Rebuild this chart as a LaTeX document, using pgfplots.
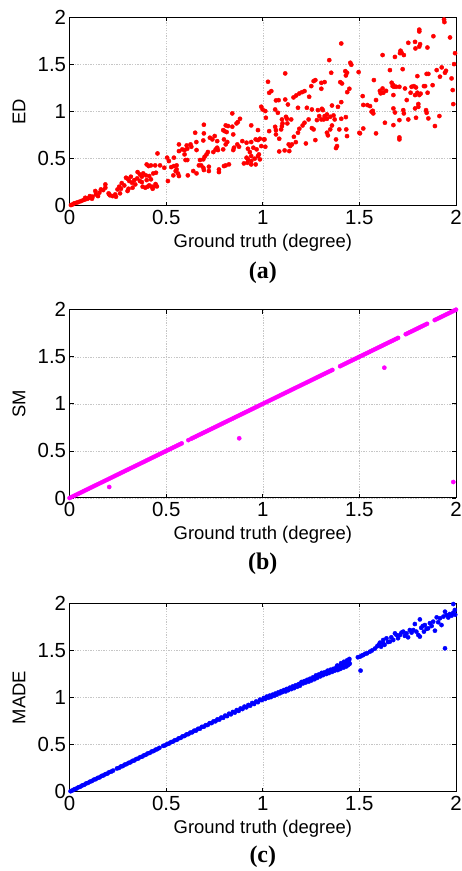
\documentclass[border=0pt]{standalone}
\usepackage{pgfplots}
\pgfplotsset{compat=1.18}
\usepackage{fontspec}
\setmainfont{Liberation Sans}
\newfontfamily\capfont{Liberation Serif}
\definecolor{mred}{rgb}{1,0,0}
\definecolor{mmag}{rgb}{1,0,1}
\definecolor{mblue}{rgb}{0,0,1}
\pgfplotsset{
  panel/.style={
    width=386.4bp, height=188.3bp, scale only axis,
    xmin=0, xmax=2, ymin=0, ymax=2,
    xtick={0,0.5,1,1.5,2}, ytick={0,0.5,1,1.5,2},
    xtick pos=both, ytick pos=both,
    tick align=inside, major tick length=4bp,
    every tick/.style={black, line width=0.7bp},
    axis line style={line width=1bp},
    grid=major,
    major grid style={gray!45, dash pattern=on 1.3bp off 1.3bp, line width=0.5bp},
    /pgf/number format/assume math mode=true,
    tick label style={font=\fontsize{20.5}{21}\selectfont},
    xticklabel style={yshift=-1bp},
    label style={font=\fontsize{18.5}{19}\selectfont},
    xlabel={Ground truth (degree)},
    xlabel style={at={(axis description cs:0.5,0)}, anchor=center, yshift=-37bp},
    ylabel style={at={(axis description cs:0,0.5)}, anchor=center, rotate=0, yshift=50.6bp},
  },
  dots/.style={only marks, mark=*, mark size=2.1bp, color=#1, mark options={draw=none, fill=#1}},
}
\begin{document}
\begin{tikzpicture}
\path[use as bounding box] (0,0) rectangle (462bp,871bp);
% ---------------- (a) ED
\begin{axis}[panel, name=pa, at={(69.6bp,665.3bp)}, anchor=south west, ylabel={ED}]
\addplot[dots=mred] table {
x y
0.007 0.007
0.016 0.014
0.024 0.025
0.036 0.032
0.047 0.039
0.059 0.049
0.071 0.060
0.081 0.067
0.081 0.084
0.093 0.074
0.102 0.085
0.105 0.102
0.116 0.074
0.119 0.095
0.133 0.156
0.136 0.120
0.147 0.102
0.154 0.138
0.162 0.173
0.174 0.166
0.185 0.226
0.185 0.191
0.202 0.131
0.205 0.120
0.209 0.110
0.223 0.102
0.236 0.120
0.240 0.095
0.248 0.173
0.257 0.202
0.261 0.131
0.266 0.180
0.270 0.240
0.283 0.215
0.292 0.297
0.300 0.286
0.300 0.156
0.305 0.180
0.309 0.262
0.317 0.308
0.323 0.244
0.326 0.191
0.335 0.272
0.340 0.226
0.350 0.290
0.352 0.357
0.364 0.332
0.364 0.262
0.374 0.308
0.374 0.251
0.378 0.202
0.381 0.343
0.392 0.191
0.395 0.322
0.399 0.438
0.399 0.272
0.404 0.202
0.409 0.421
0.412 0.315
0.412 0.216
0.421 0.428
0.421 0.280
0.426 0.202
0.430 0.180
0.433 0.343
0.443 0.428
0.443 0.209
0.445 0.230
0.447 0.350
0.452 0.205
0.455 0.555
0.468 0.428
0.490 0.403
0.505 0.510
0.509 0.262
0.514 0.474
0.526 0.410
0.537 0.322
0.540 0.510
0.540 0.421
0.549 0.368
0.554 0.428
0.554 0.385
0.561 0.343
0.566 0.651
0.566 0.580
0.566 0.315
0.583 0.598
0.595 0.591
0.595 0.545
0.600 0.485
0.606 0.640
0.609 0.605
0.609 0.485
0.612 0.322
0.626 0.651
0.630 0.626
0.640 0.368
0.650 0.775
0.656 0.676
0.657 0.591
0.657 0.343
0.669 0.428
0.675 0.485
0.681 0.428
0.692 0.693
0.692 0.492
0.692 0.403
0.695 0.860
0.695 0.768
0.695 0.379
0.699 0.520
0.709 0.545
0.716 0.570
0.721 0.414
0.721 0.368
0.726 0.722
0.739 0.704
0.744 0.570
0.751 0.740
0.756 0.598
0.764 0.686
0.764 0.616
0.768 0.591
0.773 0.385
0.773 0.357
0.795 0.803
0.795 0.598
0.799 0.704
0.799 0.421
0.802 0.792
0.808 0.853
0.808 0.651
0.808 0.428
0.813 0.782
0.816 0.676
0.820 0.846
0.825 0.439
0.842 0.980
0.842 0.839
0.847 0.757
0.847 0.591
0.851 0.616
0.864 0.874
0.868 0.651
0.871 0.888
0.877 0.626
0.882 0.923
0.894 0.686
0.902 0.449
0.916 0.669
0.916 0.510
0.920 0.456
0.923 0.605
0.923 0.492
0.933 0.570
0.940 0.853
0.940 0.676
0.940 0.527
0.940 0.474
0.940 0.438
0.951 0.616
0.958 0.499
0.963 0.704
0.963 0.438
0.968 0.598
0.975 0.803
0.975 0.697
0.975 0.527
0.980 0.545
0.985 0.711
0.985 0.492
0.992 1.051
0.992 0.633
0.999 1.022
1.006 0.704
1.009 0.704
1.013 1.005
1.013 0.626
1.016 0.934
1.027 1.316
1.033 1.199
1.033 0.792
1.044 1.217
1.064 1.022
1.064 0.838
1.068 1.118
1.068 0.803
1.068 0.757
1.078 0.987
1.082 1.121
1.085 0.711
1.085 0.576
1.095 0.810
1.099 0.916
1.099 0.845
1.102 0.874
1.113 0.587
1.116 1.405
1.116 1.128
1.120 0.944
1.125 0.923
1.127 0.874
1.130 1.075
1.134 0.651
1.137 0.580
1.142 0.633
1.147 0.916
1.151 0.651
1.159 1.150
1.161 0.732
1.171 0.675
1.173 1.171
1.182 1.040
1.182 0.775
1.189 1.192
1.189 0.817
1.203 1.206
1.206 0.852
1.216 1.217
1.216 0.881
1.223 0.661
1.228 1.040
1.237 0.916
1.240 1.157
1.251 1.270
1.254 1.022
1.254 0.824
1.263 1.323
1.263 0.810
1.272 1.334
1.272 0.697
1.280 0.909
1.285 1.015
1.292 0.952
1.303 1.242
1.303 1.305
1.303 0.916
1.306 1.029
1.311 1.015
1.315 0.916
1.320 1.313
1.320 0.952
1.332 0.969
1.332 0.923
1.332 0.775
1.337 0.747
1.344 1.546
1.349 0.944
1.349 0.810
1.354 1.412
1.358 1.064
1.358 0.852
1.366 0.959
1.372 0.916
1.379 0.704
1.379 0.612
1.384 0.633
1.389 1.050
1.396 0.810
1.401 1.312
1.406 1.723
1.406 1.100
1.406 0.923
1.410 1.298
1.427 1.429
1.430 1.383
1.430 0.941
1.432 0.810
1.436 1.412
1.436 0.739
1.437 1.206
1.448 1.242
1.453 1.518
1.458 1.497
1.496 1.419
1.500 0.774
1.503 0.768
1.517 1.164
1.520 1.070
1.520 0.820
1.541 1.069
1.555 1.058
1.563 0.998
1.569 1.008
1.572 0.980
1.575 1.334
1.586 1.122
1.586 0.768
1.606 1.220
1.610 1.193
1.620 1.600
1.620 1.245
1.624 1.200
1.632 0.881
1.638 1.220
1.658 1.440
1.667 1.306
1.672 1.270
1.676 1.280
1.676 1.175
1.676 1.033
1.676 0.856
1.679 1.263
1.684 1.580
1.684 0.990
1.690 1.263
1.707 1.263
1.707 0.909
1.707 0.725
1.707 0.704
1.710 1.620
1.713 1.646
1.718 1.625
1.724 1.450
1.727 1.015
1.730 1.600
1.730 0.980
1.736 1.245
1.745 1.122
1.753 1.730
1.753 0.916
1.765 1.200
1.770 1.263
1.782 1.270
1.788 1.740
1.788 1.175
1.788 1.033
1.790 1.670
1.793 1.256
1.793 0.934
1.800 1.376
1.800 1.200
1.805 1.080
1.805 1.050
1.810 1.870
1.810 1.850
1.810 1.690
1.810 1.175
1.814 1.716
1.817 1.190
1.834 1.270
1.840 1.270
1.845 1.015
1.848 1.400
1.848 0.987
1.852 1.680
1.853 1.200
1.857 1.400
1.857 0.927
1.879 1.280
1.883 1.800
1.891 0.846
1.900 1.440
1.914 0.952
1.917 1.370
1.926 1.469
1.938 1.978
1.940 1.950
1.943 1.412
1.948 1.433
1.969 1.787
1.977 1.352
1.983 1.228
1.986 1.079
1.990 1.504
1.995 1.620
};
\end{axis}
\node[font=\capfont\bfseries\fontsize{24}{24}\selectfont] at ([yshift=-67bp]pa.south) {(a)};
% ---------------- (b) SM
\begin{axis}[panel, name=pb, at={(69.6bp,373bp)}, anchor=south west, ylabel={SM}]
\addplot[dots=mmag] coordinates {
(0.00,0.00)(0.01,0.01)(0.02,0.02)(0.03,0.03)(0.04,0.04)(0.05,0.05)(0.06,0.06)(0.07,0.07)(0.08,0.08)(0.09,0.09)
(0.10,0.10)(0.11,0.11)(0.12,0.12)(0.13,0.13)(0.14,0.14)(0.15,0.15)(0.16,0.16)(0.17,0.17)(0.18,0.18)(0.19,0.19)
(0.20,0.20)(0.21,0.21)(0.22,0.22)(0.23,0.23)(0.24,0.24)(0.25,0.25)(0.26,0.26)(0.27,0.27)(0.28,0.28)(0.29,0.29)
(0.30,0.30)(0.31,0.31)(0.32,0.32)(0.33,0.33)(0.34,0.34)(0.35,0.35)(0.36,0.36)(0.37,0.37)(0.38,0.38)(0.39,0.39)
(0.40,0.40)(0.41,0.41)(0.42,0.42)(0.43,0.43)(0.44,0.44)(0.45,0.45)(0.46,0.46)(0.47,0.47)(0.48,0.48)(0.49,0.49)
(0.50,0.50)(0.51,0.51)(0.52,0.52)(0.53,0.53)(0.54,0.54)(0.55,0.55)(0.56,0.56)(0.57,0.57)(0.58,0.58)
(0.615,0.615)(0.63,0.63)(0.64,0.64)(0.65,0.65)(0.66,0.66)(0.67,0.67)(0.68,0.68)(0.69,0.69)
(0.70,0.70)(0.71,0.71)(0.72,0.72)(0.73,0.73)(0.74,0.74)(0.75,0.75)(0.76,0.76)(0.77,0.77)(0.78,0.78)(0.79,0.79)
(0.80,0.80)(0.81,0.81)(0.82,0.82)(0.83,0.83)(0.84,0.84)(0.85,0.85)(0.86,0.86)(0.87,0.87)(0.88,0.88)(0.89,0.89)
(0.90,0.90)(0.91,0.91)(0.92,0.92)(0.93,0.93)(0.94,0.94)(0.95,0.95)(0.96,0.96)(0.97,0.97)(0.98,0.98)(0.99,0.99)
(1.00,1.00)(1.01,1.01)(1.02,1.02)(1.03,1.03)(1.04,1.04)(1.05,1.05)(1.06,1.06)(1.07,1.07)(1.08,1.08)(1.09,1.09)
(1.10,1.10)(1.11,1.11)(1.12,1.12)(1.13,1.13)(1.14,1.14)(1.15,1.15)(1.16,1.16)(1.17,1.17)(1.18,1.18)(1.19,1.19)
(1.20,1.20)(1.21,1.21)(1.22,1.22)(1.23,1.23)(1.24,1.24)(1.25,1.25)(1.26,1.26)(1.27,1.27)(1.28,1.28)(1.29,1.29)
(1.30,1.30)(1.31,1.31)(1.32,1.32)(1.33,1.33)(1.34,1.34)(1.35,1.35)(1.36,1.36)
(1.40,1.40)(1.41,1.41)(1.42,1.42)(1.43,1.43)(1.44,1.44)(1.45,1.45)(1.46,1.46)(1.47,1.47)(1.48,1.48)(1.49,1.49)
(1.50,1.50)(1.51,1.51)(1.52,1.52)(1.53,1.53)(1.54,1.54)(1.55,1.55)(1.56,1.56)(1.57,1.57)(1.58,1.58)(1.59,1.59)
(1.60,1.60)(1.61,1.61)(1.62,1.62)(1.63,1.63)(1.64,1.64)(1.65,1.65)(1.66,1.66)(1.67,1.67)(1.68,1.68)(1.69,1.69)
(1.70,1.70)(1.74,1.74)(1.75,1.75)(1.76,1.76)(1.77,1.77)(1.78,1.78)(1.79,1.79)
(1.80,1.80)(1.81,1.81)(1.82,1.82)(1.83,1.83)(1.84,1.84)(1.85,1.85)(1.89,1.89)
(1.90,1.90)(1.91,1.91)(1.92,1.92)(1.93,1.93)(1.94,1.94)(1.95,1.95)(1.96,1.96)(1.97,1.97)(1.98,1.98)(1.99,1.99)(2.00,2.00)
};
\addplot[dots=mmag] coordinates {(0.205,0.117)(0.878,0.634)(1.629,1.384)(1.986,0.170)};
\end{axis}
\node[font=\capfont\bfseries\fontsize{24}{24}\selectfont] at ([yshift=-66bp]pb.south) {(b)};
% ---------------- (c) MADE
\begin{axis}[panel, name=pc, at={(69.6bp,79.3bp)}, anchor=south west, ylabel={MADE}]
\addplot[dots=mblue] table {
x y
0.005 0.005
0.015 0.014
0.025 0.026
0.035 0.033
0.045 0.046
0.055 0.053
0.065 0.066
0.075 0.073
0.085 0.087
0.095 0.093
0.105 0.106
0.115 0.113
0.125 0.127
0.135 0.133
0.145 0.146
0.155 0.152
0.165 0.167
0.175 0.173
0.185 0.186
0.195 0.192
0.205 0.207
0.215 0.213
0.225 0.224
0.245 0.247
0.255 0.252
0.265 0.267
0.275 0.272
0.285 0.287
0.295 0.293
0.305 0.306
0.315 0.312
0.325 0.327
0.335 0.332
0.345 0.347
0.355 0.352
0.365 0.367
0.375 0.372
0.385 0.386
0.395 0.393
0.405 0.407
0.415 0.412
0.425 0.427
0.435 0.432
0.445 0.446
0.455 0.453
0.465 0.466
0.485 0.487
0.495 0.493
0.505 0.506
0.515 0.512
0.525 0.527
0.535 0.532
0.545 0.547
0.555 0.551
0.565 0.567
0.575 0.572
0.585 0.588
0.595 0.592
0.605 0.608
0.615 0.611
0.625 0.628
0.635 0.631
0.645 0.648
0.655 0.650
0.665 0.668
0.675 0.670
0.685 0.689
0.695 0.690
0.705 0.707
0.715 0.709
0.725 0.728
0.735 0.729
0.745 0.747
0.755 0.748
0.765 0.768
0.775 0.766
0.785 0.788
0.795 0.785
0.805 0.808
0.815 0.803
0.825 0.828
0.835 0.822
0.845 0.847
0.855 0.840
0.865 0.867
0.875 0.858
0.885 0.884
0.895 0.878
0.905 0.904
0.915 0.896
0.925 0.921
0.935 0.914
0.945 0.942
0.955 0.932
0.965 0.958
0.975 0.951
0.985 0.978
0.995 0.973
1.005 0.995
1.012 0.985
1.020 1.010
1.028 0.998
1.035 1.020
1.042 1.005
1.050 1.030
1.058 1.018
1.065 1.042
1.072 1.030
1.080 1.055
1.088 1.045
1.095 1.068
1.102 1.058
1.110 1.080
1.118 1.065
1.125 1.092
1.132 1.078
1.140 1.105
1.148 1.090
1.155 1.118
1.162 1.100
1.170 1.130
1.178 1.115
1.185 1.142
1.192 1.125
1.200 1.165
1.208 1.150
1.215 1.175
1.222 1.160
1.230 1.188
1.238 1.170
1.245 1.200
1.252 1.182
1.260 1.215
1.268 1.195
1.275 1.235
1.282 1.210
1.290 1.245
1.298 1.225
1.305 1.262
1.312 1.238
1.320 1.268
1.328 1.250
1.335 1.285
1.342 1.260
1.350 1.295
1.358 1.272
1.365 1.305
1.372 1.285
1.380 1.318
1.388 1.292
1.395 1.335
1.402 1.305
1.410 1.345
1.418 1.318
1.425 1.362
1.432 1.330
1.438 1.375
1.442 1.345
1.446 1.392
1.450 1.360
1.448 1.410
1.436 1.395
1.420 1.380
1.405 1.365
1.385 1.340
1.492 1.428
1.503 1.434
1.506 1.286
1.512 1.445
1.520 1.452
1.530 1.465
1.540 1.470
1.554 1.487
1.565 1.500
1.580 1.520
1.592 1.545
1.600 1.560
1.606 1.583
1.612 1.540
1.623 1.611
1.623 1.576
1.630 1.560
1.640 1.629
1.648 1.590
1.658 1.594
1.665 1.640
1.675 1.611
1.684 1.682
1.692 1.664
1.700 1.630
1.710 1.664
1.718 1.690
1.727 1.700
1.735 1.655
1.744 1.682
1.752 1.640
1.761 1.717
1.770 1.690
1.779 1.717
1.787 1.781
1.795 1.700
1.805 1.664
1.813 1.830
1.813 1.647
1.820 1.740
1.828 1.760
1.834 1.700
1.839 1.770
1.848 1.730
1.856 1.735
1.865 1.790
1.874 1.760
1.882 1.806
1.891 1.710
1.900 1.852
1.908 1.800
1.917 1.842
1.925 1.770
1.935 1.860
1.943 1.912
1.943 1.523
1.951 1.877
1.960 1.850
1.968 1.887
1.977 1.870
1.986 1.901
1.986 1.993
1.994 1.930
1.996 1.880
};
\end{axis}
\node[font=\capfont\bfseries\fontsize{24}{24}\selectfont] at ([yshift=-65bp]pc.south) {(c)};
\end{tikzpicture}
\end{document}
